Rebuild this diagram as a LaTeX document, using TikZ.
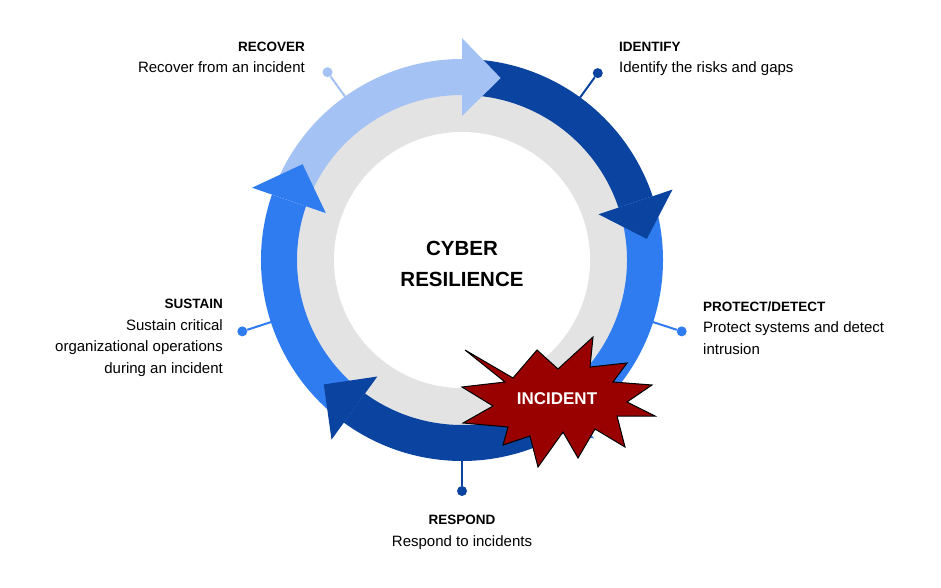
\documentclass[tikz,border=0pt]{standalone}
\usepackage{fontspec}
\setmainfont{Liberation Sans}

\definecolor{lightblue}{HTML}{A4C2F4}
\definecolor{midblue}{HTML}{2F7CF0}
\definecolor{darkblue}{HTML}{0B44A0}
\definecolor{ringgray}{HTML}{E3E3E3}
\definecolor{burst}{HTML}{990000}

\newcommand{\headline}[1]{{\bfseries\fontsize{13.5}{21.5}\selectfont #1}}

\begin{document}
\begin{tikzpicture}[x=1pt,y=1pt]
\tikzstyle{textblock} = [inner sep=0, font=\fontsize{15}{21.5}\selectfont]
\tikzstyle{pinline} = [line width=2pt]
\tikzstyle{pindot} = [circle, inner sep=0, minimum size=10pt]

\useasboundingbox (0,0) rectangle (941,587);

\begin{scope}[shift={(462,327)}]
% grey ring
\fill[ringgray] (0,0) circle (172pt);
\fill[white] (0,0) circle (128pt);

% pins
\foreach \name/\ang/\col in {recover/125.6/lightblue, identify/54/darkblue, protect/-18/midblue, sustain/198/midblue, respond/-90/darkblue} {
  \coordinate (\name ring) at (\ang:195pt);
  \node[pindot, fill=\col] (\name dot) at (\ang:231pt) {};
  \draw[pinline, \col] (\name ring) -- (\name dot);
}

% arrow bodies
\foreach \col/\a/\b in {midblue/234/161, lightblue/161/90, darkblue/90/18.5, midblue/18.5/-53.5, darkblue/-53.5/-126} {
  \fill[\col] (\a:201pt) arc[start angle=\a, end angle=\b, radius=201pt]
    -- (\b:165pt) arc[start angle=\b, end angle=\a, radius=165pt] -- cycle;
}
% arrow heads
\foreach \col/\b in {midblue/161, lightblue/90, darkblue/18.5, midblue/-53.5, darkblue/-126} {
  \fill[\col] (\b:144pt) -- (\b:222pt) -- ({\b-12}:186pt) -- cycle;
}
\end{scope}

% centre
\node[font=\bfseries\fontsize{20.5}{31}\selectfont, align=center, anchor=base] (title) at (462,301) {CYBER\\RESILIENCE};

% incident
\draw[fill=burst, line width=1pt, line join=miter] (465,237) -- (513,209) -- (537,237) -- (558,218) -- (593,250) -- (590,220)
  -- (627,224) -- (613,205) -- (652,202) -- (627,185) -- (655,171) -- (617,171) -- (625,140) -- (595,158)
  -- (578,129) -- (563,155) -- (538,120) -- (530,151) -- (503,142) -- (508,160) -- (463,164) -- (493,181)
  -- (462,200) -- (505,205) -- cycle;
\node[font=\bfseries\fontsize{17}{20}\selectfont, text=white, anchor=base] (incident) at (557,183) {INCIDENT};

% texts (anchored at the baseline of the last line)
\node[textblock, anchor=base east, align=right] (recover) at (305,514) {\headline{RECOVER}\\Recover from an incident};
\node[textblock, anchor=base west, align=left] (identify) at (619,514) {\headline{IDENTIFY}\\Identify the risks and gaps};
\node[textblock, anchor=base west, align=left] (protect) at (703,233) {\headline{PROTECT/DETECT}\\Protect systems and detect\\intrusion};
\node[textblock, anchor=base east, align=right] (sustain) at (223,214) {\headline{SUSTAIN}\\Sustain critical\\organizational operations\\during an incident};
\node[textblock, anchor=base, align=center] (respond) at (462,41) {\headline{RESPOND}\\Respond to incidents};

\end{tikzpicture}
\end{document}
